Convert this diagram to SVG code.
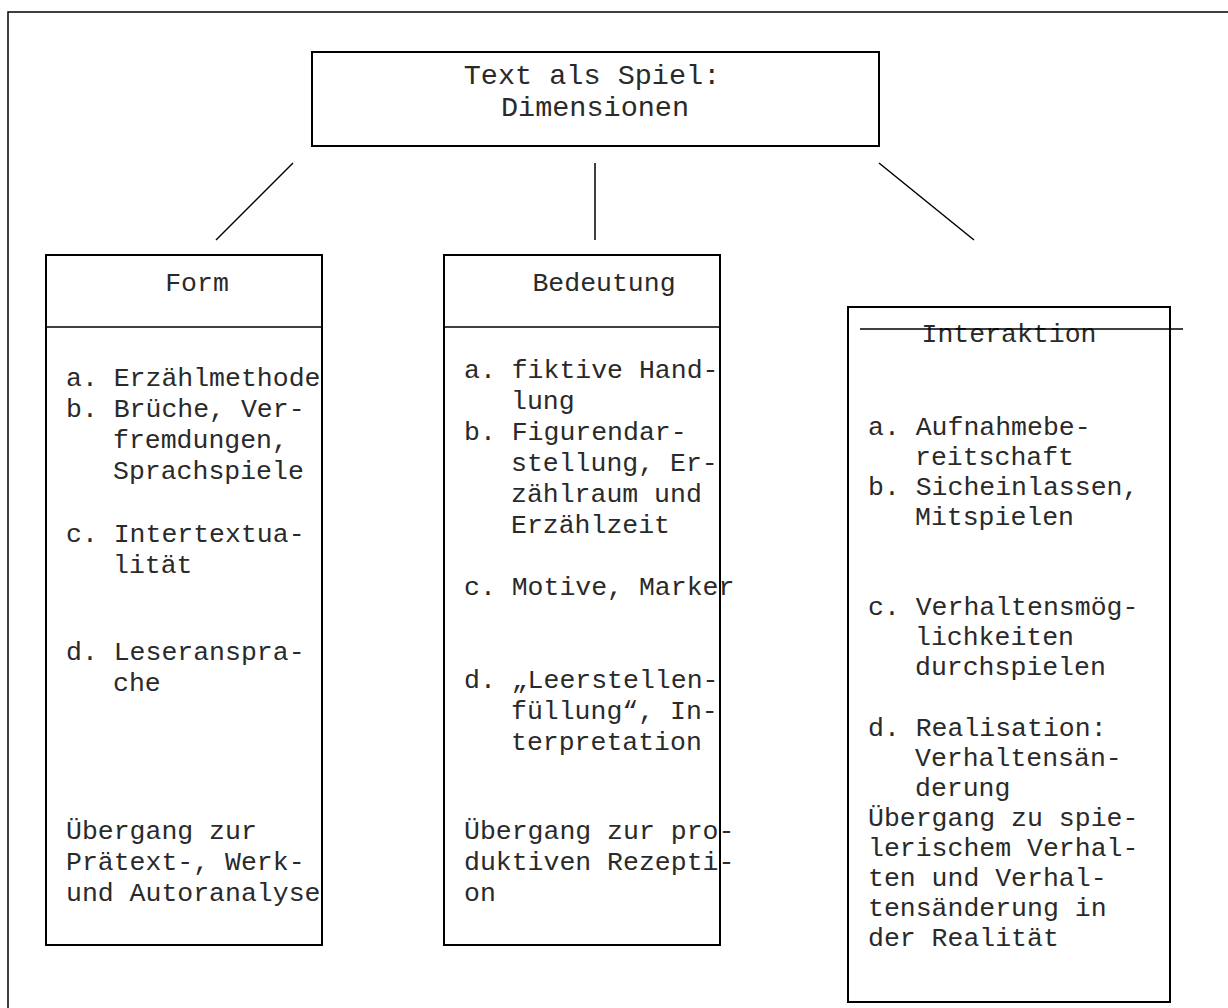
<svg xmlns="http://www.w3.org/2000/svg" width="1228" height="1008" viewBox="0 0 1228 1008">
<style>
text{font-family:"Liberation Mono","Courier New",monospace;font-size:26.5px;fill:#2a2a2a}
.c{text-anchor:middle}
.t{font-size:28.5px}
.b{fill:#fff;stroke:#000;stroke-width:2}
.l{stroke:#000;stroke-width:1.5;fill:none}
</style>
<rect width="1228" height="1008" fill="#fff"/>
<g id="frame"><path class="l" d="M8 1008V12H1228" stroke-width="2"/></g>
<g id="title">
<rect class="b" x="312" y="52" width="567" height="94"/>
<text class="c t" x="592" y="84">Text als Spiel:</text>
<text class="c t" x="595" y="116">Dimensionen</text>
</g>
<g id="connectors">
<line class="l" x1="293" y1="163" x2="216" y2="240"/>
<line class="l" x1="595" y1="163" x2="595" y2="240"/>
<line class="l" x1="879" y1="163" x2="974" y2="240"/>
</g>
<g id="form">
<rect class="b" x="46" y="255" width="276" height="690"/>
<line class="l" x1="46" y1="327" x2="322" y2="327" stroke-width="2"/>
<text class="c" x="197" y="291">Form</text>
<text x="66" y="386">a. Erzählmethode</text>
<text x="66" y="417">b. Brüche, Ver-</text>
<text x="113" y="448">fremdungen,</text>
<text x="113" y="479">Sprachspiele</text>
<text x="66" y="542">c. Intertextua-</text>
<text x="113" y="573">lität</text>
<text x="66" y="660">d. Leseranspra-</text>
<text x="113" y="691">che</text>
<text x="66" y="839">Übergang zur</text>
<text x="66" y="870">Prätext-, Werk-</text>
<text x="66" y="901">und Autoranalyse</text>
</g>
<g id="bedeutung">
<rect class="b" x="444" y="255" width="276" height="690"/>
<line class="l" x1="444" y1="327" x2="720" y2="327" stroke-width="2"/>
<text class="c" x="604" y="291">Bedeutung</text>
<text x="464" y="378">a. fiktive Hand-</text>
<text x="511" y="409">lung</text>
<text x="464" y="440">b. Figurendar-</text>
<text x="511" y="471">stellung, Er-</text>
<text x="511" y="502">zählraum und</text>
<text x="511" y="533">Erzählzeit</text>
<text x="464" y="595">c. Motive, Marker</text>
<text x="464" y="688">d. „Leerstellen-</text>
<text x="511" y="719">füllung“, In-</text>
<text x="511" y="750">terpretation</text>
<text x="464" y="839">Übergang zur pro-</text>
<text x="464" y="870">duktiven Rezepti-</text>
<text x="464" y="901">on</text>
</g>
<g id="interaktion">
<rect class="b" x="848" y="307" width="322" height="695"/>
<text class="c" x="1009" y="342">Interaktion</text>
<line class="l" x1="860" y1="329" x2="1183" y2="329" stroke-width="2"/>
<text x="868" y="435">a. Aufnahmebe-</text>
<text x="915" y="465">reitschaft</text>
<text x="868" y="495">b. Sicheinlassen,</text>
<text x="915" y="525">Mitspielen</text>
<text x="868" y="615">c. Verhaltensmög-</text>
<text x="915" y="645">lichkeiten</text>
<text x="915" y="675">durchspielen</text>
<text x="868" y="736">d. Realisation:</text>
<text x="915" y="766">Verhaltensän-</text>
<text x="915" y="796">derung</text>
<text x="868" y="826">Übergang zu spie-</text>
<text x="868" y="856">lerischem Verhal-</text>
<text x="868" y="886">ten und Verhal-</text>
<text x="868" y="916">tensänderung in</text>
<text x="868" y="946">der Realität</text>
</g>
</svg>
